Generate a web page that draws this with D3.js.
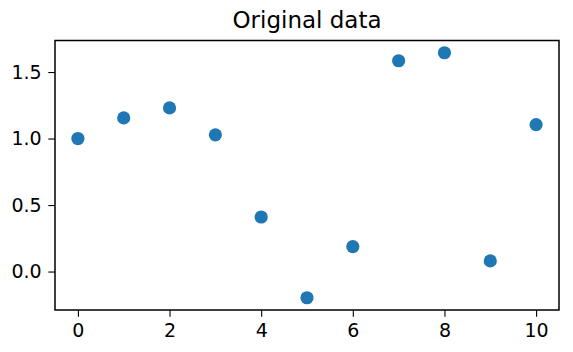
<!DOCTYPE html>
<html>
<head>
<meta charset="utf-8">
<script src="https://cdn.jsdelivr.net/npm/d3@7"></script>
<style>
  body { margin: 0; background: #fff; }
  svg text { font-family: "DejaVu Sans", sans-serif; fill: #000; }
</style>
</head>
<body>
<div id="chart"></div>
<script>
// data
const xValues = [0, 1, 2, 3, 4, 5, 6, 7, 8, 9, 10];
const yValues = [1.0, 1.155, 1.23, 1.028, 0.41, -0.197, 0.188, 1.585, 1.645, 0.08, 1.105];
const xTicks = [0, 2, 4, 6, 8, 10];
const yTicks = [0.0, 0.5, 1.0, 1.5];
const title = "Original data";

const width = 573, height = 352;
const margin = { top: 40.5, right: 14, bottom: 42, left: 55 };

const svg = d3.select("#chart").append("svg")
    .attr("width", width)
    .attr("height", height);

// matplotlib style 5% margins
const yMin = d3.min(yValues), yMax = d3.max(yValues);
const yPad = (yMax - yMin) * 0.05;

const x = d3.scaleLinear()
    .domain([-0.5, 10.5])
    .range([margin.left, width - margin.right]);

const y = d3.scaleLinear()
    .domain([yMin - yPad, yMax + yPad])
    .range([height - margin.bottom, margin.top]);

const tickLen = 6.7, tickPad = 6.7;

// x axis
const xAxis = svg.append("g")
    .attr("transform", `translate(0,${height - margin.bottom})`)
    .call(d3.axisBottom(x).tickValues(xTicks).tickFormat(d3.format("d"))
        .tickSize(tickLen).tickPadding(tickPad));
xAxis.select(".domain").remove();

// y axis
const yAxis = svg.append("g")
    .attr("transform", `translate(${margin.left},0)`)
    .call(d3.axisLeft(y).tickValues(yTicks).tickFormat(d3.format(".1f"))
        .tickSize(tickLen).tickPadding(tickPad));
yAxis.select(".domain").remove();

svg.selectAll(".tick line").attr("stroke", "#000").attr("stroke-width", 1.1);
svg.selectAll(".tick text").style("font-size", "19px").attr("fill", "#000");

// frame
svg.append("rect")
    .attr("x", margin.left)
    .attr("y", margin.top)
    .attr("width", width - margin.left - margin.right)
    .attr("height", height - margin.top - margin.bottom)
    .attr("fill", "none")
    .attr("stroke", "#000")
    .attr("stroke-width", 1.5);

// points
svg.append("g")
    .selectAll("circle")
    .data(xValues)
    .join("circle")
    .attr("cx", d => x(d))
    .attr("cy", (d, i) => y(yValues[i]))
    .attr("r", 6.6)
    .attr("fill", "#1f77b4");

// title
svg.append("text")
    .attr("x", (margin.left + width - margin.right) / 2)
    .attr("y", 28)
    .attr("text-anchor", "middle")
    .style("font-size", "23px")
    .text(title);
</script>
</body>
</html>
